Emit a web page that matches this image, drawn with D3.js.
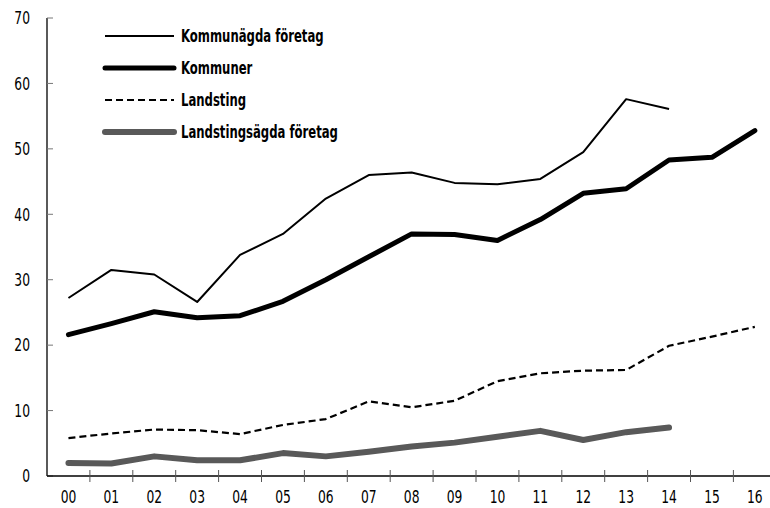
<!DOCTYPE html>
<html>
<head>
<meta charset="utf-8">
<script src="https://d3js.org/d3.v7.min.js"></script>
<style>
  body { margin: 0; background: #fff; }
  svg { display: block; font-family: "DejaVu Sans Condensed", "DejaVu Sans", sans-serif; font-stretch: condensed; }
</style>
</head>
<body>
<script>
var w = 770,
    h = 508;

var years = ["00","01","02","03","04","05","06","07","08","09","10","11","12","13","14","15","16"];
var yTicks = [0, 10, 20, 30, 40, 50, 60, 70];

var kommunagda = [27.2, 31.5, 30.8, 26.6, 33.8, 37.0, 42.4, 46.0, 46.4, 44.8, 44.6, 45.4, 49.5, 57.6, 56.1];
var kommuner = [21.6, 23.3, 25.1, 24.2, 24.5, 26.7, 30.0, 33.5, 37.0, 36.9, 36.0, 39.2, 43.2, 43.9, 48.3, 48.7, 52.8];
var landsting = [5.8, 6.5, 7.1, 7.0, 6.4, 7.8, 8.7, 11.4, 10.5, 11.5, 14.5, 15.7, 16.1, 16.2, 19.9, 21.3, 22.8];
var landstingsagda = [2.0, 1.9, 3.0, 2.4, 2.4, 3.5, 3.0, 3.7, 4.5, 5.1, 6.0, 6.9, 5.5, 6.7, 7.4];

var seriesNames = ["Kommunägda företag", "Kommuner", "Landsting", "Landstingsägda företag"];

var series = [
  { name: seriesNames[0], values: kommunagda, color: "#000", width: 2, dash: null },
  { name: seriesNames[1], values: kommuner, color: "#000", width: 5, dash: null },
  { name: seriesNames[2], values: landsting, color: "#000", width: 2.2, dash: "7,4" },
  { name: seriesNames[3], values: landstingsagda, color: "#595959", width: 6, dash: null }
];

var plotLeft = 47, plotRight = 47 + 17 * 42.9, plotTop = 18, plotBottom = 476;

var x = d3.scaleBand().domain(years).range([plotLeft, plotRight]);
var y = d3.scaleLinear().domain([0, 70]).range([plotBottom, plotTop]);

var svg = d3.select("body").append("svg")
    .attr("width", w)
    .attr("height", h);

// the reference uses a narrow typeface, so squeeze the text horizontally
function squeezed(tx, ty, s) {
  return "translate(" + tx + "," + ty + ") scale(" + s + ",1)";
}

// y axis
var yAxis = svg.append("g");
yAxis.append("line")
    .attr("x1", plotLeft).attr("x2", plotLeft)
    .attr("y1", y(70)).attr("y2", y(0))
    .attr("stroke", "#000").attr("stroke-width", 1.3);
yAxis.selectAll("line.tick").data(yTicks).enter().append("line")
    .attr("class", "tick")
    .attr("x1", plotLeft).attr("x2", plotLeft + 6)
    .attr("y1", function(d) { return y(d); })
    .attr("y2", function(d) { return y(d); })
    .attr("stroke", "#777").attr("stroke-width", 1);
yAxis.selectAll("text").data(yTicks).enter().append("text")
    .attr("transform", function(d) { return squeezed(30, y(d), 0.76); })
    .attr("dy", "0.35em")
    .attr("text-anchor", "end")
    .style("font-size", "18px")
    .text(function(d) { return d; });

// x axis
var xAxis = svg.append("g");
xAxis.append("line")
    .attr("x1", plotLeft).attr("x2", w)
    .attr("y1", plotBottom).attr("y2", plotBottom)
    .attr("stroke", "#000").attr("stroke-width", 1.3);
xAxis.selectAll("line.tick").data(years.slice(1)).enter().append("line")
    .attr("class", "tick")
    .attr("x1", function(d) { return x(d); })
    .attr("x2", function(d) { return x(d); })
    .attr("y1", plotBottom - 6).attr("y2", plotBottom + 6)
    .attr("stroke", "#555").attr("stroke-width", 1);
xAxis.selectAll("text").data(years).enter().append("text")
    .attr("transform", function(d) { return squeezed(x(d) + x.bandwidth() / 2, 503, 0.76); })
    .attr("text-anchor", "middle")
    .style("font-size", "18px")
    .text(function(d) { return d; });

// lines
var line = d3.line()
    .x(function(d, i) { return x(years[i]) + x.bandwidth() / 2; })
    .y(function(d) { return y(d); });

svg.selectAll("path.series").data(series).enter().append("path")
    .attr("class", "series")
    .attr("d", function(d) { return line(d.values); })
    .attr("fill", "none")
    .attr("stroke", function(d) { return d.color; })
    .attr("stroke-width", function(d) { return d.width; })
    .attr("stroke-dasharray", function(d) { return d.dash; })
    .attr("stroke-linejoin", "round")
    .attr("stroke-linecap", function(d) { return d.width > 3 ? "round" : "butt"; });

// legend
var legend = svg.selectAll("g.legend").data(series).enter().append("g")
    .attr("class", "legend")
    .attr("transform", function(d, i) { return "translate(105," + (36 + i * 32) + ")"; });
legend.append("line")
    .attr("x1", 0).attr("x2", 69)
    .attr("stroke", function(d) { return d.color; })
    .attr("stroke-width", function(d) { return d.width; })
    .attr("stroke-dasharray", function(d) { return d.dash; })
    .attr("stroke-linecap", function(d) { return d.width > 3 ? "round" : "butt"; });
legend.append("text")
    .attr("transform", squeezed(76, 0, 0.72))
    .attr("dy", "0.35em")
    .style("font-size", "18px")
    .style("font-weight", "bold")
    .text(function(d) { return d.name; });
</script>
</body>
</html>
